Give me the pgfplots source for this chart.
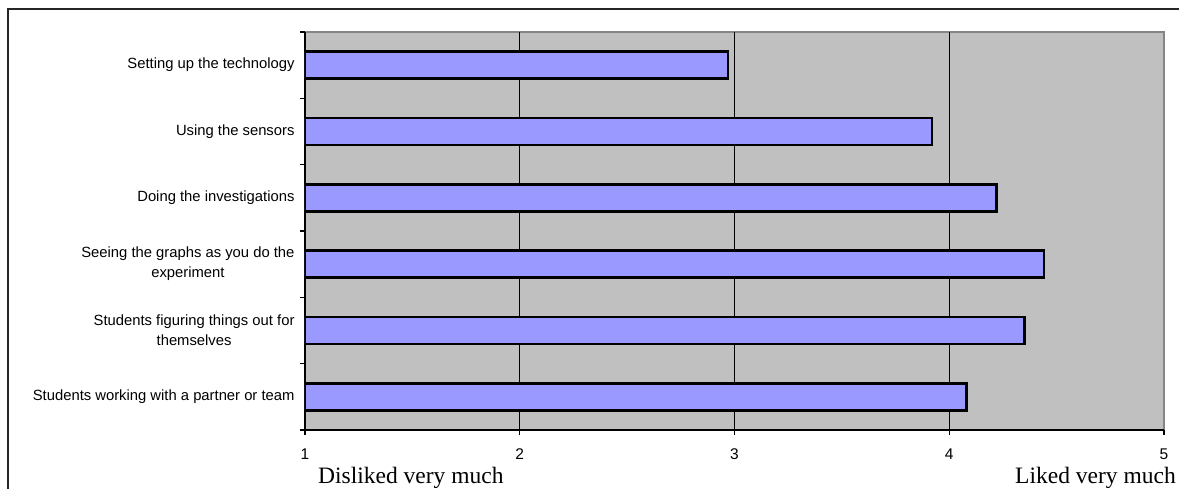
\documentclass[border=0pt]{standalone}
\usepackage{pgfplots}
\pgfplotsset{compat=1.18}
\usepackage{fontspec}
\setmainfont{Liberation Sans}
\newfontfamily\timesfont{Liberation Serif}
\definecolor{bggray}{HTML}{C0C0C0}
\definecolor{barblue}{HTML}{9999FF}
\definecolor{edgegray}{HTML}{858585}
\begin{document}
\begin{tikzpicture}
\path[use as bounding box] (0pt,0pt) rectangle (1179pt,489pt);
\draw[line width=2pt, black!85] (7.5pt,0pt) -- (7.5pt,479.5pt) -- (1179pt,479.5pt);
\begin{axis}[
  at={(305pt,59pt)}, anchor=south west,
  scale only axis, width=859pt, height=398pt,
  xmin=1, xmax=5, ymin=-0.5, ymax=5.5, y dir=reverse,
  axis x line*=bottom, axis y line*=left,
  axis line style={black, line width=2pt},
  axis background/.style={fill=bggray, draw=edgegray, line width=2.5pt},
  xtick={1,2,3,4,5},
  ytick={0,1,2,3,4,5},
  yticklabels={Setting up the technology, Using the sensors, Doing the investigations, {Seeing the graphs as you do the\\experiment}, {Students figuring things out for\\themselves}, Students working with a partner or team},
  minor ytick={-0.5,0.5,1.5,2.5,3.5,4.5,5.5},
  tick align=outside,
  major tick length=5pt, minor tick length=5pt,
  major y tick style={draw=none},
  tick style={black, line width=1.2pt},
  extra x ticks={2,3,4},
  extra x tick labels={},
  extra x tick style={grid=major, major tick length=0pt},
  grid style={black, line width=1pt},
  /pgf/number format/assume math mode=true,
  xticklabel style={font=\fontsize{15.5}{17}\selectfont, yshift=-10pt},
  yticklabel style={font=\fontsize{14.8}{20}\selectfont, align=center, xshift=-2pt},
]
\addplot[xbar, bar width=27pt, fill=barblue, draw=black, line width=2.4pt]
  coordinates {(2.97,0) (3.92,1) (4.22,2) (4.44,3) (4.35,4) (4.08,5)};
\end{axis}
\node[anchor=base west, font=\timesfont\fontsize{23.5}{26}\selectfont, inner sep=0pt] at (318pt,5pt) {Disliked very much};
\node[anchor=base west, font=\timesfont\fontsize{23.5}{26}\selectfont, inner sep=0pt] at (1015pt,5pt) {Liked very much};
\end{tikzpicture}
\end{document}
